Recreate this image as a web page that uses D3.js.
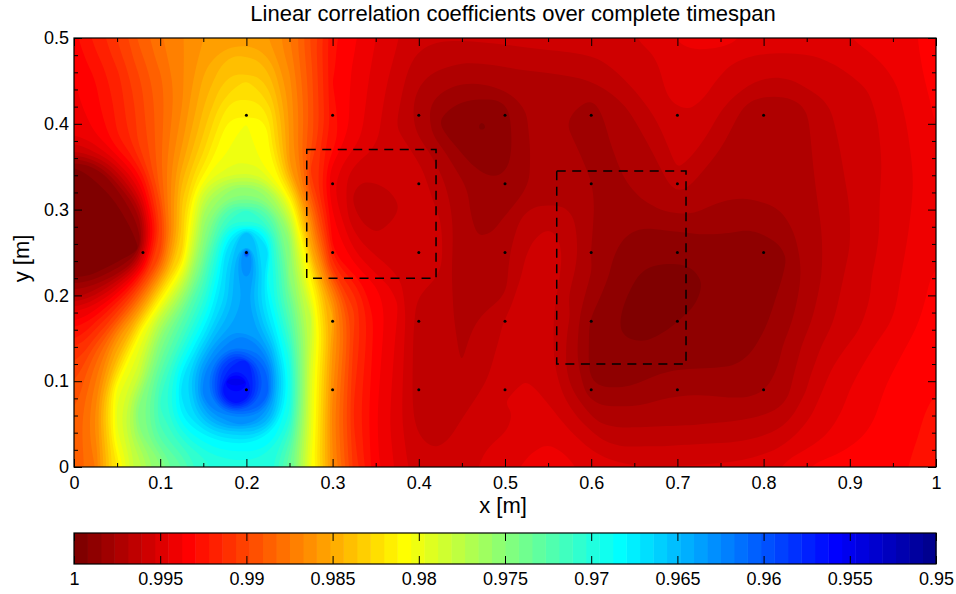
<!DOCTYPE html>
<html>
<head>
<meta charset="utf-8">
<script src="https://cdn.jsdelivr.net/npm/d3@7"></script>
<style>
html, body { margin: 0; padding: 0; background: #fff; }
svg text { font-family: "Liberation Sans", Arial, sans-serif; fill: #000; }
</style>
</head>
<body>
<svg id="chart"></svg>
<script>
// correlation, rows from y=0.5 down to y=0, columns x=0..1
const xGrid = d3.range(41).map(i => i * 0.025);
const yGrid = d3.range(21).map(i => 0.5 - i * 0.025);
const corr = [
 [.9930,.9918,.9905,.9888,.9875,.9868,.9860,.9855,.9852,.9860,.9875,.9900,.9928,.9936,.9945,.9952,.9960,.9960,.9960,.9960,.9958,.9958,.9957,.9956,.9956,.9955,.9953,.9950,.9943,.9937,.9941,.9945,.9948,.9949,.9948,.9947,.9945,.9943,.9941,.9939,.9930],
 [.9935,.9925,.9912,.9895,.9880,.9868,.9855,.9843,.9838,.9848,.9870,.9898,.9927,.9938,.9947,.9955,.9965,.9967,.9968,.9968,.9966,.9965,.9964,.9963,.9963,.9958,.9957,.9954,.9949,.9947,.9950,.9954,.9955,.9956,.9955,.9953,.9951,.9947,.9942,.9938,.9933],
 [.9938,.9930,.9918,.9900,.9885,.9870,.9850,.9835,.9828,.9838,.9865,.9895,.9930,.9940,.9948,.9957,.9968,.9975,.9976,.9976,.9973,.9972,.9971,.9972,.9968,.9966,.9958,.9954,.9950,.9949,.9955,.9958,.9962,.9963,.9958,.9956,.9954,.9952,.9946,.9941,.9935],
 [.9940,.9932,.9920,.9904,.9887,.9868,.9845,.9822,.9815,.9825,.9862,.9895,.9928,.9940,.9950,.9960,.9972,.9982,.9985,.9987,.9986,.9976,.9972,.9973,.9980,.9972,.9965,.9957,.9950,.9952,.9959,.9968,.9973,.9973,.9968,.9961,.9956,.9954,.9949,.9942,.9936],
 [.9942,.9934,.9920,.9904,.9885,.9865,.9840,.9812,.9803,.9812,.9860,.9895,.9925,.9941,.9951,.9961,.9976,.9986,.9991,.9996,.9988,.9977,.9973,.9978,.9981,.9974,.9970,.9962,.9955,.9957,.9963,.9972,.9976,.9975,.9970,.9963,.9957,.9954,.9948,.9943,.9937],
 [.9955,.9945,.9925,.9905,.9885,.9860,.9832,.9806,.9803,.9812,.9860,.9895,.9925,.9942,.9952,.9960,.9965,.9976,.9988,.9992,.9988,.9977,.9973,.9974,.9981,.9976,.9973,.9966,.9957,.9960,.9968,.9973,.9974,.9973,.9970,.9964,.9958,.9955,.9952,.9944,.9938],
 [.9994,.9985,.9955,.9925,.9885,.9852,.9820,.9800,.9790,.9810,.9860,.9910,.9945,.9955,.9958,.9958,.9958,.9970,.9980,.9988,.9987,.9978,.9973,.9973,.9978,.9978,.9974,.9971,.9960,.9966,.9973,.9974,.9974,.9973,.9970,.9965,.9959,.9955,.9951,.9945,.9938],
 [.9996,.9996,.9985,.9945,.9885,.9840,.9790,.9762,.9752,.9768,.9825,.9900,.9945,.9963,.9965,.9959,.9958,.9966,.9975,.9980,.9984,.9977,.9972,.9972,.9976,.9979,.9975,.9973,.9966,.9972,.9975,.9975,.9975,.9974,.9971,.9966,.9960,.9955,.9950,.9945,.9938],
 [.9996,.9996,.9996,.9975,.9905,.9835,.9765,.9725,.9710,.9730,.9790,.9880,.9940,.9962,.9967,.9962,.9957,.9962,.9973,.9979,.9979,.9968,.9967,.9968,.9976,.9981,.9980,.9977,.9972,.9975,.9979,.9979,.9978,.9976,.9971,.9967,.9961,.9955,.9950,.9945,.9938],
 [.9996,.9996,.9996,.9990,.9905,.9835,.9755,.9695,.9650,.9695,.9760,.9860,.9930,.9955,.9963,.9957,.9956,.9958,.9976,.9979,.9972,.9964,.9958,.9964,.9976,.9981,.9986,.9985,.9984,.9984,.9983,.9985,.9984,.9980,.9972,.9967,.9961,.9955,.9950,.9943,.9938],
 [.9996,.9996,.9996,.9995,.9905,.9835,.9745,.9670,.9572,.9665,.9745,.9850,.9930,.9945,.9955,.9956,.9956,.9960,.9976,.9976,.9970,.9961,.9955,.9962,.9977,.9984,.9989,.9990,.9990,.9988,.9987,.9987,.9988,.9986,.9974,.9968,.9961,.9955,.9950,.9942,.9938],
 [.9996,.9995,.9978,.9935,.9868,.9800,.9725,.9665,.9628,.9690,.9755,.9815,.9905,.9930,.9945,.9953,.9957,.9960,.9976,.9973,.9971,.9957,.9953,.9966,.9976,.9986,.9992,.9996,.9997,.9993,.9988,.9987,.9987,.9984,.9974,.9966,.9958,.9953,.9948,.9942,.9936],
 [.9975,.9960,.9935,.9890,.9820,.9765,.9710,.9665,.9635,.9680,.9735,.9805,.9870,.9912,.9932,.9945,.9962,.9964,.9974,.9971,.9970,.9956,.9958,.9970,.9981,.9986,.9993,.9996,.9997,.9993,.9988,.9987,.9987,.9983,.9974,.9965,.9958,.9953,.9946,.9940,.9935],
 [.9945,.9928,.9900,.9850,.9780,.9730,.9690,.9650,.9640,.9672,.9725,.9780,.9850,.9905,.9932,.9945,.9966,.9966,.9970,.9968,.9961,.9956,.9958,.9968,.9986,.9992,.9996,.9996,.9994,.9989,.9987,.9987,.9986,.9980,.9971,.9964,.9956,.9953,.9946,.9941,.9933],
 [.9925,.9905,.9860,.9800,.9750,.9715,.9670,.9630,.9620,.9650,.9710,.9785,.9858,.9908,.9933,.9947,.9966,.9966,.9970,.9966,.9958,.9957,.9958,.9972,.9987,.9992,.9996,.9992,.9988,.9987,.9987,.9987,.9984,.9977,.9968,.9960,.9954,.9947,.9942,.9936,.9932],
 [.9910,.9885,.9845,.9795,.9735,.9690,.9640,.9590,.9575,.9620,.9695,.9790,.9862,.9910,.9934,.9948,.9966,.9966,.9969,.9965,.9958,.9955,.9957,.9972,.9985,.9990,.9987,.9987,.9987,.9987,.9986,.9985,.9981,.9973,.9963,.9955,.9950,.9944,.9939,.9935,.9931],
 [.9900,.9875,.9806,.9780,.9720,.9670,.9620,.9552,.9546,.9605,.9690,.9795,.9862,.9912,.9935,.9948,.9966,.9966,.9966,.9962,.9954,.9953,.9957,.9970,.9987,.9988,.9987,.9982,.9981,.9980,.9982,.9983,.9984,.9973,.9963,.9952,.9946,.9941,.9936,.9933,.9930],
 [.9895,.9870,.9795,.9750,.9710,.9670,.9625,.9570,.9565,.9610,.9690,.9795,.9870,.9915,.9936,.9950,.9966,.9966,.9964,.9958,.9953,.9952,.9953,.9962,.9977,.9978,.9979,.9976,.9974,.9974,.9974,.9976,.9975,.9970,.9958,.9950,.9944,.9939,.9935,.9932,.9928],
 [.9890,.9865,.9795,.9745,.9715,.9685,.9660,.9635,.9630,.9650,.9700,.9795,.9870,.9915,.9937,.9950,.9965,.9965,.9960,.9955,.9954,.9953,.9950,.9955,.9966,.9972,.9970,.9969,.9970,.9969,.9968,.9968,.9966,.9962,.9953,.9948,.9942,.9938,.9934,.9931,.9927],
 [.9890,.9870,.9802,.9765,.9730,.9710,.9690,.9682,.9680,.9685,.9720,.9800,.9868,.9912,.9936,.9950,.9960,.9962,.9958,.9954,.9950,.9947,.9945,.9948,.9955,.9961,.9962,.9961,.9961,.9960,.9960,.9960,.9958,.9953,.9947,.9942,.9938,.9935,.9933,.9930,.9925],
 [.9892,.9875,.9822,.9780,.9755,.9730,.9710,.9700,.9698,.9702,.9735,.9805,.9865,.9908,.9935,.9946,.9958,.9957,.9955,.9952,.9948,.9942,.9940,.9942,.9948,.9952,.9953,.9953,.9953,.9952,.9952,.9951,.9948,.9942,.9937,.9935,.9934,.9934,.9932,.9928,.9925]
];

// sensor positions
const sensorX = [.2,.3,.4,.5,.6,.7,.8, .3,.4,.5,.6,.7, .08,.2,.3,.4,.5,.6,.7,.8, .3,.4,.5,.6,.7, .2,.3,.4,.5,.6,.7,.8];
const sensorY = [.41,.41,.41,.41,.41,.41,.41, .33,.33,.33,.33,.33, .25,.25,.25,.25,.25,.25,.25,.25, .17,.17,.17,.17,.17, .09,.09,.09,.09,.09,.09,.09];

// dashed windows
const boxX0 = [.27, .56];
const boxX1 = [.42, .71];
const boxY0 = [.22, .12];
const boxY1 = [.37, .345];

const xTicks = [0,.1,.2,.3,.4,.5,.6,.7,.8,.9,1];
const xMinor = [.05,.15,.25,.35,.45,.55,.65,.75,.85,.95];
const yTicks = [0,.1,.2,.3,.4,.5];
const yMinor = [.02,.04,.06,.08,.12,.14,.16,.18,.22,.24,.26,.28,.32,.34,.36,.38,.42,.44,.46,.48];
const cbarTicks = [1,.995,.99,.985,.98,.975,.97,.965,.96,.955,.95];

const width = 956;
const height = 594;
const plotL = 74, plotR = 936, plotT = 38, plotB = 467;
const nBands = 64;
const bandStep = 0.05 / nBands;

const svg = d3.select("#chart").attr("width", width).attr("height", height)
    .style("display", "block");

const x = d3.scaleLinear().domain([0, 1]).range([plotL, plotR]);
const y = d3.scaleLinear().domain([0, 0.5]).range([plotB, plotT]);

// matlab jet, band 1 = darkest red at value 1
function jet(i) {
    const p = (nBands - i + 1) / nBands;
    const c = v => Math.round(255 * Math.max(0, Math.min(1, 1.5 - Math.abs(4 * p - v))));
    return `rgb(${c(3)},${c(2)},${c(1)})`;
}
const bands = d3.range(nBands, 0, -1);

svg.append("clipPath").attr("id", "plot-clip").append("rect")
    .attr("x", plotL).attr("y", plotT).attr("width", plotR - plotL).attr("height", plotB - plotT);

// grid gets one repeated cell round it so the contours run past the frame
const nx = xGrid.length, ny = yGrid.length;
const flat = [];
for (let j = -1; j <= ny; j++) {
    const row = corr[Math.max(0, Math.min(ny - 1, j))];
    for (let i = -1; i <= nx; i++) flat.push(row[Math.max(0, Math.min(nx - 1, i))]);
}
const gx = d3.scaleLinear().domain([1.5, nx + 0.5]).range([plotL, plotR]);
const gy = d3.scaleLinear().domain([1.5, ny + 0.5]).range([plotT, plotB]);

const thresholds = bands.map(k => 1 - k * bandStep);
const contours = d3.contours().size([nx + 2, ny + 2]).thresholds(thresholds)(flat);

const ringLine = d3.line().x(d => gx(d[0])).y(d => gy(d[1])).curve(d3.curveBasisClosed);

// take the grid corners out of a contour ring before the curve goes through it
function soften(ring) {
    const n = ring.length;
    return ring.map((p, i) => {
        const a = ring[(i - 1 + n) % n], b = ring[(i + 1) % n];
        return [(a[0] + p[0] + b[0]) / 3, (a[1] + p[1] + b[1]) / 3];
    });
}

const field = svg.append("g").attr("clip-path", "url(#plot-clip)");
field.append("rect").attr("x", plotL).attr("y", plotT)
    .attr("width", plotR - plotL).attr("height", plotB - plotT).attr("fill", jet(nBands));
field.selectAll("path.band").data(contours).enter().append("path")
    .attr("class", "band")
    .attr("fill", (d, i) => jet(bands[i]))
    .attr("fill-rule", "evenodd")
    .attr("d", c => c.coordinates.map(poly => poly.map(ring => ringLine(soften(ring.slice(0, -1)))).join("")).join(""));

// sensors
svg.append("g").selectAll("circle").data(sensorX).enter().append("circle")
    .attr("cx", d => x(d))
    .attr("cy", (d, i) => y(sensorY[i]))
    .attr("r", 1.5)
    .attr("fill", "#000");

// dashed windows
svg.append("g").selectAll("rect").data(boxX0).enter().append("rect")
    .attr("x", d => x(d))
    .attr("y", (d, i) => y(boxY1[i]))
    .attr("width", (d, i) => x(boxX1[i]) - x(d))
    .attr("height", (d, i) => y(boxY0[i]) - y(boxY1[i]))
    .attr("fill", "none")
    .attr("stroke", "#000")
    .attr("stroke-width", 1.5)
    .attr("stroke-dasharray", "9 6.5");

// axes, ticks point inward on all four sides
function styleAxis(g) {
    g.select(".domain").remove();
    g.selectAll("line").attr("stroke", "#000").attr("stroke-width", 1);
    g.selectAll("text").style("font-size", "18px").attr("fill", "#000");
}
const hAxis = (gen, yPos, size, vals, labels) => {
    const g = svg.append("g").attr("transform", `translate(0,${yPos})`)
        .call(gen(x).tickValues(vals).tickSize(size).tickPadding(8)
            .tickFormat(labels ? (d => String(d)) : ""));
    styleAxis(g);
    return g;
};
const vAxis = (gen, xPos, size, vals, labels) => {
    const g = svg.append("g").attr("transform", `translate(${xPos},0)`)
        .call(gen(y).tickValues(vals).tickSize(size).tickPadding(6)
            .tickFormat(labels ? (d => String(d)) : ""));
    styleAxis(g);
    return g;
};
// tickSize is measured outward, so a negative size draws inside the plot
hAxis(d3.axisBottom, plotB, -8, xTicks, true).selectAll("text").attr("y", 9).attr("dy", "0.71em");
hAxis(d3.axisBottom, plotB, -4, xMinor, false);
hAxis(d3.axisTop, plotT, -8, xTicks, false);
hAxis(d3.axisTop, plotT, -4, xMinor, false);
vAxis(d3.axisLeft, plotL, -8, yTicks, true).selectAll("text").attr("x", -5);
vAxis(d3.axisLeft, plotL, -4, yMinor, false);
vAxis(d3.axisRight, plotR, -8, yTicks, false);
vAxis(d3.axisRight, plotR, -4, yMinor, false);

svg.append("rect").attr("x", plotL).attr("y", plotT)
    .attr("width", plotR - plotL).attr("height", plotB - plotT)
    .attr("fill", "none").attr("stroke", "#000").attr("stroke-width", 1.2);

svg.append("text").attr("x", (plotL + plotR) / 2 + 8).attr("y", 21)
    .attr("text-anchor", "middle").style("font-size", "22px")
    .text("Linear correlation coefficients over complete timespan");
svg.append("text").attr("x", (plotL + plotR) / 2 - 2).attr("y", 513)
    .attr("text-anchor", "middle").style("font-size", "22px").text("x [m]");
svg.append("text").attr("transform", `translate(29,${(plotT + plotB) / 2 + 6}) rotate(-90)`)
    .attr("text-anchor", "middle").style("font-size", "22px").text("y [m]");

// colour bar
const cbTop = 533, cbBottom = 564;
const cx = d3.scaleLinear().domain([1, 0.95]).range([plotL, plotR]);
svg.append("g").selectAll("rect").data(bands).enter().append("rect")
    .attr("x", k => cx(1 - (k - 1) * bandStep))
    .attr("y", cbTop)
    .attr("width", (plotR - plotL) / nBands + 0.5)
    .attr("height", cbBottom - cbTop)
    .attr("fill", k => jet(k));

const cbFormat = d => String(+d.toFixed(3));
const cbBot = svg.append("g").attr("transform", `translate(0,${cbBottom})`)
    .call(d3.axisBottom(cx).tickValues(cbarTicks).tickSize(-8).tickPadding(8).tickFormat(cbFormat));
styleAxis(cbBot);
cbBot.selectAll("text").attr("y", 8).attr("dy", "0.71em");
const cbTopAxis = svg.append("g").attr("transform", `translate(0,${cbTop})`)
    .call(d3.axisTop(cx).tickValues(cbarTicks).tickSize(-8).tickFormat(""));
styleAxis(cbTopAxis);
svg.append("rect").attr("x", plotL).attr("y", cbTop)
    .attr("width", plotR - plotL).attr("height", cbBottom - cbTop)
    .attr("fill", "none").attr("stroke", "#000").attr("stroke-width", 1.2);
</script>
</body>
</html>
